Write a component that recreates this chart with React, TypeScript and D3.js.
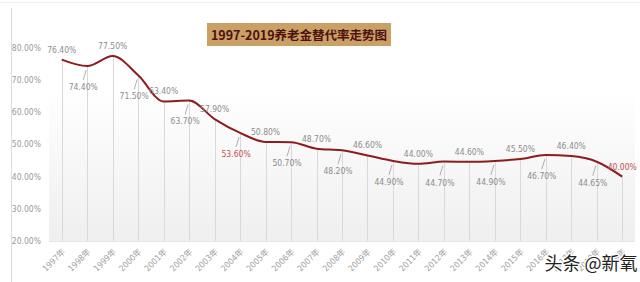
import React from "react";
import * as d3 from "d3";

const years = ["1997","1998","1999","2000","2001","2002","2003","2004","2005","2006","2007","2008","2009","2010","2011","2012","2013","2014","2015","2016","2017","2018","2019"];
const rates = [76.4,74.4,77.5,71.5,63.4,63.7,57.9,53.6,50.8,50.7,48.7,48.2,46.6,44.9,44.0,44.7,44.6,44.9,45.5,46.7,46.4,44.65,40.0];
const rateLabels = ["76.40%","74.40%","77.50%","71.50%","63.40%","63.70%","57.90%","53.60%","50.80%","50.70%","48.70%","48.20%","46.60%","44.90%","44.00%","44.70%","44.60%","44.90%","45.50%","46.70%","46.40%","44.65%","40.00%"];
const highlightYears = ["2004","2019"];
const yTicks = [20,30,40,50,60,70,80];
const title = "1997-2019养老金替代率走势图";
const watermark = "头条 @新氧";

const W = 640, H = 282;
const plotLeft = 49, plotRight = 635, plotTop = 48, plotBottom = 241;
const numFont = "'Liberation Sans Narrow','DejaVu Sans Condensed','Noto Sans CJK SC',sans-serif";

export default function App() {
  const x = d3.scaleBand<string>().domain(years).range([plotLeft, plotRight]).padding(0);
  const cx = (y: string) => (x(y) as number) + x.bandwidth() / 2;
  const y = d3.scaleLinear().domain([20, 80]).range([plotBottom, plotTop]);
  const pts: [number, number][] = years.map((yr, i) => [cx(yr), y(rates[i])]);
  const line = d3.line().curve(d3.curveMonotoneX)(pts) || "";

  return (
    <svg width={W} height={H} style={{ position: "absolute", left: 0, top: 0, background: "#fff" }}>
      <defs>
        <linearGradient id="bg" x1="0" y1="0" x2="0" y2="1">
          <stop offset="0" stopColor="#ffffff" />
          <stop offset="1" stopColor="#efefef" />
        </linearGradient>
      </defs>
      <rect x={0} y={0} width={W} height={H} fill="#fff" />
      <line x1={0} x2={W} y1={2.5} y2={2.5} stroke="#f0f0f0" />
      <line x1={11.5} x2={11.5} y1={8} y2={H} stroke="#dcdcdc" />
      <rect x={plotLeft} y={plotTop + 40} width={plotRight - plotLeft} height={plotBottom - plotTop - 40} fill="url(#bg)" />
      <line x1={plotLeft} x2={plotRight} y1={plotBottom + 0.5} y2={plotBottom + 0.5} stroke="#e6e6e6" />
      {yTicks.map((t) => (
        <text key={t} x={41} y={y(t)} dy="0.35em" textAnchor="end" fontSize={8.5} fill="#9a9a9a" fontFamily={numFont}>
          {t.toFixed(2)}%
        </text>
      ))}
      {pts.map(([px, py], i) => (
        <line key={i} x1={Math.round(px) + 0.5} x2={Math.round(px) + 0.5} y1={py} y2={plotBottom} stroke="#d9d9d9" strokeWidth={1} />
      ))}
      <path d={line} fill="none" stroke="#8c1c1f" strokeWidth={2} />
      {pts.map(([px, py], i) => {
        const above = i % 2 === 0;
        const red = highlightYears.includes(years[i]);
        const lx = above ? px : px - 4;
        const ly = above ? py - 10 : py + 21;
        return (
          <g key={i}>
            {!above && (
              <line x1={px - 1} y1={py + 4} x2={px - 4} y2={ly - 7} stroke="#9a9a9a" strokeWidth={0.8} />
            )}
            <text x={lx} y={ly} dy="0.35em" textAnchor="middle" fontSize={8.5} fill={red ? "#c0504d" : "#8c8c8c"} fontFamily={numFont}>
              {rateLabels[i]}
            </text>
          </g>
        );
      })}
      {years.map((yr) => (
        <text key={yr} transform={`translate(${cx(yr) + 2},${plotBottom + 9}) rotate(-45)`} textAnchor="end" dy="0.35em" fontSize={8.5} fill="#a0a0a0" fontFamily={numFont}>
          {yr}年
        </text>
      ))}
      <rect x={207} y={23} width={184} height={23} fill="#c9a065" />
      <text x={299} y={35} dy="0.36em" textAnchor="middle" fontSize={12.5} fontWeight="bold" fill="#4f1010" fontFamily="'Noto Sans CJK SC',sans-serif">
        {title}
      </text>
      <text x={591} y={264} dy="0.36em" textAnchor="middle" fontSize={18} fill="#222" stroke="#fff" strokeWidth={2.5} style={{ paintOrder: "stroke" }} fontFamily="'Noto Sans CJK SC',sans-serif">
        {watermark}
      </text>
    </svg>
  );
}
